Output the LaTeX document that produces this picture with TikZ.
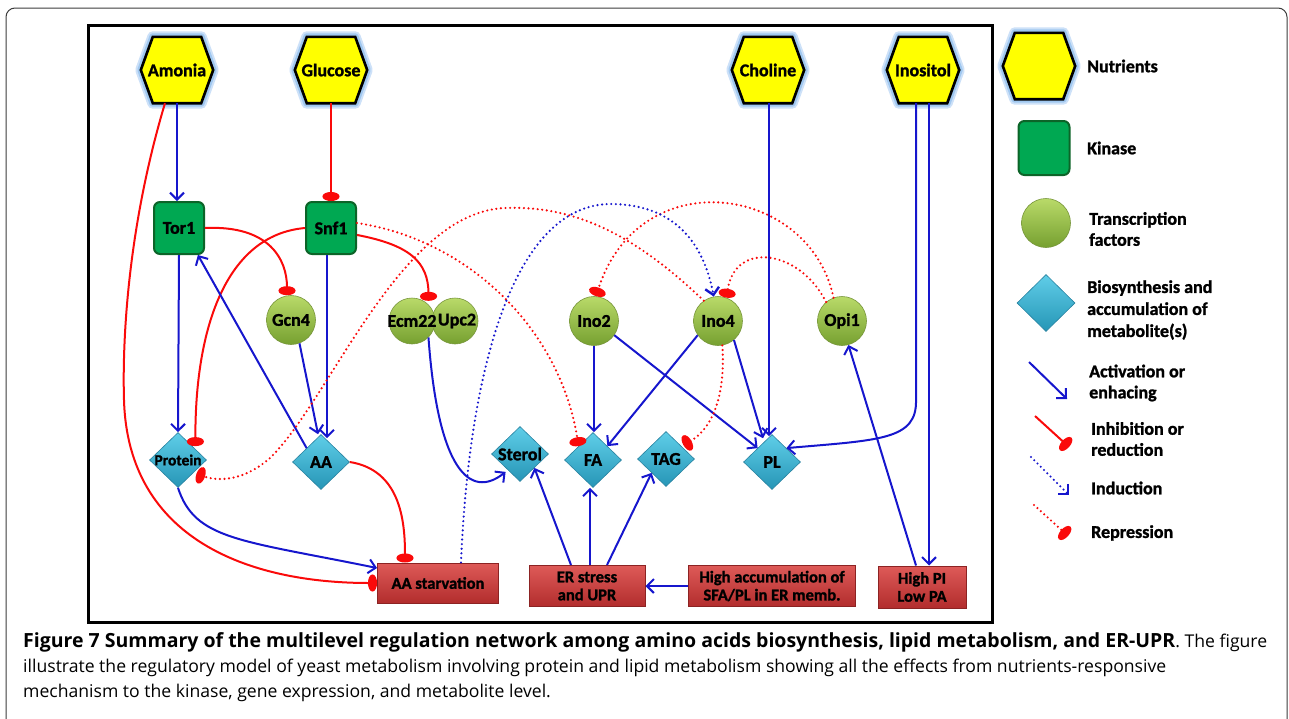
\documentclass[tikz,border=0pt]{standalone}
\usepackage{fontspec}
\setmainfont{Carlito}[BoldFeatures={FakeBold=1.3}]
\newfontfamily\capfont{Open Sans}
\usetikzlibrary{arrows.meta,shapes.geometric,calc}
\definecolor{actblue}{RGB}{22,22,205}
\definecolor{inhred}{RGB}{250,10,10}
\definecolor{nutyellow}{RGB}{255,255,0}
\definecolor{haloA}{RGB}{205,225,248}
\definecolor{haloB}{RGB}{160,200,240}
\definecolor{kingreen}{RGB}{0,168,82}
\definecolor{kinborder}{RGB}{12,100,40}
\definecolor{tftop}{RGB}{185,218,105}
\definecolor{tfbot}{RGB}{118,160,48}
\definecolor{tfborder}{RGB}{120,150,60}
\definecolor{mettop}{RGB}{95,205,232}
\definecolor{metbot}{RGB}{38,150,182}
\definecolor{metborder}{RGB}{40,130,160}
\definecolor{redtop}{RGB}{222,90,88}
\definecolor{redbot}{RGB}{178,45,45}
\definecolor{redborder}{RGB}{140,35,35}
\definecolor{framegray}{RGB}{60,60,60}
\newcommand\nutrienthex[4]{%
  \node[hexbox] (#1) at (#2,#3) {};
  \foreach \w/\c in {11/haloA,7/haloB}{%
    \draw[line width=\w pt, draw=\c, line join=round] (#1.west) -- ([xshift=12pt]#1.north west) -- ([xshift=-12pt]#1.north east) -- (#1.east) -- ([xshift=-12pt]#1.south east) -- ([xshift=12pt]#1.south west) -- cycle;}
  \filldraw[fill=nutyellow, draw=black, line width=2.6pt] (#1.west) -- ([xshift=12pt]#1.north west) -- ([xshift=-12pt]#1.north east) -- (#1.east) -- ([xshift=-12pt]#1.south east) -- ([xshift=12pt]#1.south west) -- cycle;
  \node[hextext] (#1-t) at (#1) {#4};
}
\begin{document}
\begin{tikzpicture}[x=1pt,y=-1pt,
  every node/.style={inner sep=0pt},
  hexbox/.style={rectangle, minimum width=72pt, minimum height=66pt},
  hextext/.style={font=\fontsize{18}{20}\selectfont\bfseries},
  kin/.style={rectangle, rounded corners=6pt, draw=kinborder, line width=2pt, fill=kingreen, minimum width=50pt, minimum height=52pt, font=\fontsize{18}{20}\selectfont\bfseries},
  tf/.style={circle, minimum size=49pt, draw=tfborder, line width=0.6pt, top color=tftop, bottom color=tfbot},
  tflab/.style={font=\fontsize{18}{20}\selectfont\bfseries},
  met/.style={diamond, minimum width=57pt, minimum height=55pt, draw=metborder, line width=0.6pt, top color=mettop, bottom color=metbot},
  metlab/.style={font=\fontsize{18}{20}\selectfont\bfseries},
  stress/.style={rectangle, draw=redborder, line width=1pt, top color=redtop, bottom color=redbot, align=center, font=\fontsize{16.5}{18}\selectfont\bfseries},
  legtext/.style={anchor=west, align=left, font=\fontsize{18}{21}\selectfont\bfseries},
  capline/.style={anchor=base west, font=\capfont\fontsize{17.6}{20}\selectfont},
  act/.style={draw=actblue, line width=2pt, -{Straight Barb[length=7pt,width=14pt]}},
  inh/.style={draw=inhred, line width=2pt, -{Ellipse[length=9pt,width=17pt]}},
  ind/.style={act, line width=2.4pt, dash pattern=on 0pt off 4.6pt, line cap=round},
  rep/.style={inh, line width=2.4pt, dash pattern=on 0pt off 4.6pt, line cap=round},
]
\useasboundingbox (0,0) rectangle (1289,718);
% frames
\draw[framegray, line width=1pt, rounded corners=9pt] (6,760) -- (6,8) -- (1287,8) -- (1287,760);
\draw[line width=3pt] (88,25) rectangle (992,622);

% nutrients
\nutrienthex{amonia}{177}{70}{Amonia}
\nutrienthex{glucose}{331}{70}{Glucose}
\nutrienthex{choline}{768}{70}{Choline}
\nutrienthex{inositol}{923}{70}{Inositol}
\nutrienthex{lnut}{1039}{66}{}

% kinases
\node[kin] (tor1) at (179,228) {Tor1};
\node[kin] (snf1) at (331,228) {Snf1};
\node[kin, minimum width=51pt, minimum height=54pt] (lkin) at (1044,148) {};

% transcription factors
\node[tf, label={[tflab]center:Gcn4}] (gcn4) at (291,320) {};
\node[tf, minimum size=46pt] (upc) at (455,321) {};
\node[tf, minimum size=46pt] (ecm) at (412,321) {};
\node[tflab] (upclab) at (457,321) {Upc2};
\node[tflab] (ecmlab) at (412,321) {Ecm22};
\node[tf, label={[tflab]center:Ino2}] (ino2) at (594,321) {};
\node[tf, label={[tflab]center:Ino4}] (ino4) at (718,321) {};
\node[tf, label={[tflab]center:Opi1}] (opi1) at (842,321) {};
\node[tf] (ltf) at (1046,223) {};

% metabolites
\node[met, label={[font=\fontsize{15.5}{18}\selectfont\bfseries]center:Protein}] (protein) at (178,460) {};
\node[met, label={[metlab]center:AA}] (aa) at (321,462) {};
\node[met, label={[metlab]center:Sterol}] (sterol) at (520,454) {};
\node[met, label={[metlab]center:FA}] (fa) at (593,460) {};
\node[met, label={[metlab]center:TAG}] (tag) at (666,459) {};
\node[met, label={[metlab]center:PL}] (pl) at (772,462) {};
\node[met, minimum width=58pt, minimum height=57pt] (ldia) at (1046,303) {};

% stress boxes
\node[stress, minimum width=121pt, minimum height=40pt] (aast) at (438,583) {AA starvation};
\node[stress, minimum width=116pt, minimum height=41pt] (er) at (587,586) {ER stress\\and UPR};
\node[stress, minimum width=167pt, minimum height=41pt] (high) at (772,586) {High accumulation of\\SFA/PL in ER memb.};
\node[stress, minimum width=88pt, minimum height=42pt] (hpi) at (922,587) {High PI\\Low PA};

% connectors
\draw[act] (amonia.south) -- (amonia.south |- tor1.north);
\draw[inh] ([xshift=-12pt]amonia.south) .. controls (130,220) and (122,330) .. (124,400) .. controls (128,540) and (250,583) .. (aast.west);
\draw[inh] (glucose.south) -- (snf1.north);
\draw[act] (tor1.south) -- (protein.north);
\draw[inh] (tor1.east) .. controls (270,225) and (287,260) .. ([xshift=-4pt]gcn4.north);
\draw[inh] (snf1.west) .. controls (225,235) and (195,330) .. ([xshift=3pt]protein.north east);
\draw[act] ([xshift=-4pt]snf1.south) -- ([xshift=-4pt,yshift=-4pt]snf1.south |- aa.north);
\draw[act] (gcn4.-70) -- ([xshift=-3pt]aa.north);
\draw[act] (aa.north west) -- (tor1.-55);
\draw[inh] (snf1.-15) .. controls (410,245) and (428,262) .. ([xshift=5pt]ecm.60);
\draw[rep] ([yshift=5pt]snf1.east) .. controls (470,240) and (560,330) .. (fa.north west);
\draw[rep] (ino4.125) .. controls (640,240) and (580,205) .. (505,208) .. controls (400,212) and (330,400) .. (270,458) .. controls (245,480) and (220,482) .. ([xshift=4pt]protein.south east);
\draw[rep] (opi1.110) .. controls (810,185) and (640,160) .. ([xshift=2pt]ino2.north);
\draw[rep] (opi1.130) .. controls (800,250) and (735,240) .. (ino4.70);
\draw[ind] ([xshift=23pt]aast.north) .. controls (470,350) and (520,205) .. (610,204) .. controls (680,204) and (705,250) .. (ino4.100);
\draw[act] (ecm.-45) .. controls (438,470) and (470,500) .. ([yshift=-4pt]sterol.south west);
\draw[act] (ino2.south) -- (ino2.south |- fa.north);
\draw[act] (ino2.-35) -- (pl.north west);
\draw[act] (ino4.-145) -- (fa.north east);
\draw[rep] (ino4.-80) .. controls (726,400) and (710,430) .. ([xshift=3pt]tag.north east);
\draw[act] (ino4.-50) -- ([xshift=-9pt,yshift=-4pt]pl.north);
\draw[act] ([xshift=1pt]choline.south) -- ([xshift=1pt,yshift=-2pt]choline.south |- pl.north);
\draw[act] ([xshift=-7pt]inositol.south) -- (916,400) .. controls (917,440) and (880,440) .. (pl.north east);
\draw[act] ([xshift=6pt]inositol.south) -- ([xshift=6pt]inositol.south |- hpi.north);
\draw[act] ([xshift=-6pt]hpi.north) -- (opi1.-75);
\draw[act] ([xshift=-16pt]er.north) -- (sterol.south east);
\draw[act] ([xshift=3pt]er.north) -- ([xshift=-3pt]fa.south);
\draw[act] ([xshift=20pt]er.north) -- (tag.south west);
\draw[act] (high.west) -- (er.east);
\draw[act] (protein.south) .. controls (195,540) and (240,540) .. ([yshift=15pt]aast.west);
\draw[inh] (aa.east) .. controls (400,470) and (405,520) .. ([xshift=-33pt]aast.north);

% legend
\node[legtext] (lt1) at (1087,66) {Nutrients};
\node[legtext] (lt2) at (1087,148) {Kinase};
\node[legtext] (lt3) at (1089,229) {Transcription\\factors};
\node[legtext, font=\fontsize{18}{22}\selectfont\bfseries] (lt4) at (1087,310) {Biosynthesis and\\accumulation of\\metabolite(s)};
\node[legtext] (lt5) at (1089,383) {Activation or\\enhacing};
\node[legtext] (lt6) at (1091,439) {Inhibition or\\reduction};
\node[legtext] (lt7) at (1091,488) {Induction};
\node[legtext] (lt8) at (1091,533) {Repression};
\coordinate (la1) at (1029,362); \coordinate (la2) at (1067,399);
\coordinate (lb1) at (1035,416); \coordinate (lb2) at (1069,447);
\coordinate (lc1) at (1031,457); \coordinate (lc2) at (1069,495);
\coordinate (ld1) at (1034,505); \coordinate (ld2) at (1068,536);
\draw[act] (la1) -- (la2);
\draw[inh] (lb1) -- (lb2);
\draw[ind] (lc1) -- (lc2);
\draw[rep] (ld1) -- (ld2);

% caption
\node[capline] (cap1) at (23,647) {{\fontsize{19.5}{20}\selectfont\bfseries Figure 7 Summary of the multilevel regulation network among amino acids biosynthesis, lipid metabolism, and ER-UPR}. The figure};
\node[capline] (cap2) at (23,672) {illustrate the regulatory model of yeast metabolism involving protein and lipid metabolism showing all the effects from nutrients-responsive};
\node[capline] (cap3) at (23,697) {mechanism to the kinase, gene expression, and metabolite level.};
\end{tikzpicture}
\end{document}
